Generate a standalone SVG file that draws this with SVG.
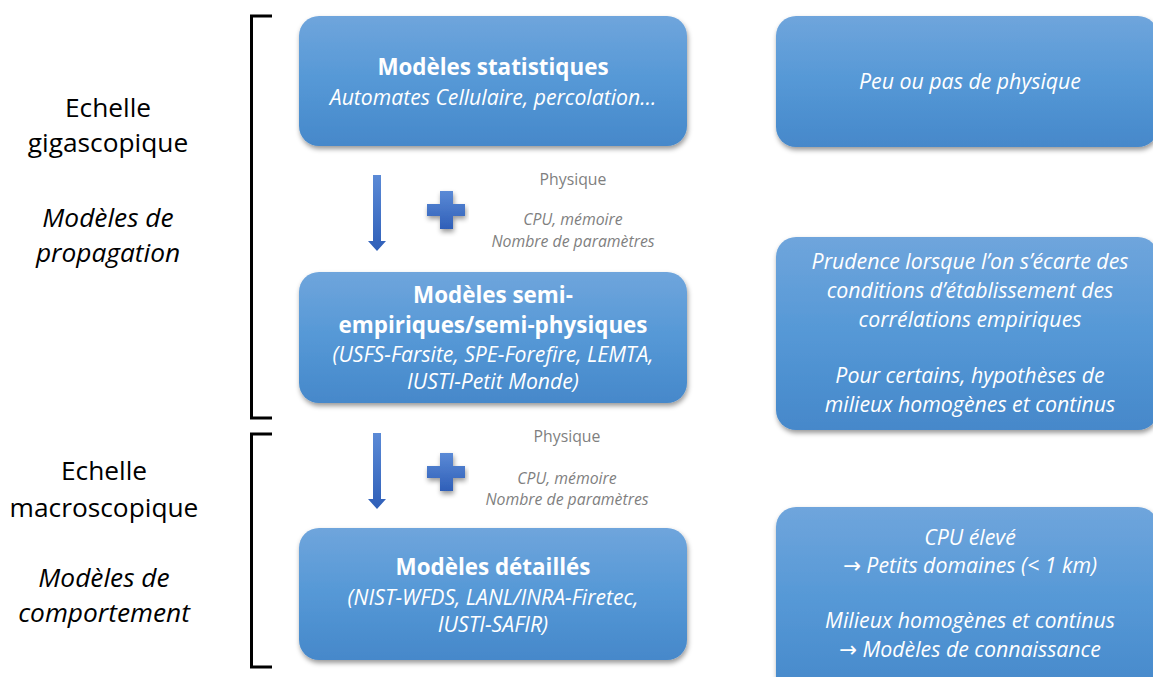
<svg xmlns="http://www.w3.org/2000/svg" width="1153" height="677" viewBox="0 0 1153 677">
<style>
.t{font-family:"Open Sans","Liberation Sans",sans-serif;text-anchor:middle}
.w{fill:#ffffff}
.b{font-weight:bold;font-size:22.4px}
.i{font-style:italic}
.s{font-size:21.2px}
.r{font-size:21.3px}
.g{fill:#7f7f7f;font-size:15.8px}
.k{fill:#000;font-size:26.3px}
.ar{font-family:"DejaVu Sans",sans-serif;font-style:normal}
.br{fill:none;stroke:#000;stroke-width:3}
</style>
<defs>
<linearGradient id="bg" x1="0" y1="0" x2="0" y2="1">
<stop offset="0" stop-color="#6fa5dc"/>
<stop offset="0.5" stop-color="#5598d6"/>
<stop offset="1" stop-color="#4688ca"/>
</linearGradient>
<linearGradient id="ag" x1="0" y1="0" x2="0" y2="1">
<stop offset="0" stop-color="#5b8ad6"/>
<stop offset="1" stop-color="#2f5fb8"/>
</linearGradient>
<filter id="sh" x="-10%" y="-10%" width="120%" height="130%">
<feDropShadow dx="1" dy="3" stdDeviation="2.5" flood-color="#000" flood-opacity="0.4"/>
</filter>
</defs>

<g id="brackets">
<path class="br" d="M272,16 H251.5 V418 H272"/>
<path class="br" d="M272,434 H251.5 V667 H272"/>
</g>

<g id="labels-left">
<text class="t k" x="108" y="117">Echelle</text>
<text class="t k" x="108" y="152">gigascopique</text>
<text class="t k i" x="108" y="227">Modèles de</text>
<text class="t k i" x="108" y="262">propagation</text>
<text class="t k" x="104" y="480">Echelle</text>
<text class="t k" x="104" y="517">macroscopique</text>
<text class="t k i" x="104" y="587">Modèles de</text>
<text class="t k i" x="104" y="622">comportement</text>
</g>

<g id="node-statistiques">
<rect x="299" y="16" width="388" height="130" rx="20" fill="url(#bg)" filter="url(#sh)"/>
<text class="t w b" x="493" y="75">Modèles statistiques</text>
<text class="t w i s" x="493" y="105">Automates Cellulaire, percolation…</text>
</g>

<g id="node-semi">
<rect x="299" y="272" width="388" height="131" rx="20" fill="url(#bg)" filter="url(#sh)"/>
<text class="t w b" x="493" y="303">Modèles semi-</text>
<text class="t w b" x="493" y="333">empiriques/semi-physiques</text>
<text class="t w i s" x="493" y="362">(USFS-Farsite, SPE-Forefire, LEMTA,</text>
<text class="t w i s" x="493" y="389">IUSTI-Petit Monde)</text>
</g>

<g id="node-detailles">
<rect x="299" y="528" width="388" height="132" rx="20" fill="url(#bg)" filter="url(#sh)"/>
<text class="t w b" x="493" y="575">Modèles détaillés</text>
<text class="t w i s" x="493" y="605">(NIST-WFDS, LANL/INRA-Firetec,</text>
<text class="t w i s" x="493" y="632">IUSTI-SAFIR)</text>
</g>

<g id="note-1">
<rect x="776" y="16" width="382" height="131" rx="20" fill="url(#bg)" filter="url(#sh)"/>
<text class="t w i r" x="970" y="89">Peu ou pas de physique</text>
</g>

<g id="note-2">
<rect x="776" y="237" width="382" height="193" rx="20" fill="url(#bg)" filter="url(#sh)"/>
<text class="t w i r" x="970" y="269">Prudence lorsque l’on s’écarte des</text>
<text class="t w i r" x="970" y="298">conditions d’établissement des</text>
<text class="t w i r" x="970" y="327">corrélations empiriques</text>
<text class="t w i r" x="970" y="383">Pour certains, hypothèses de</text>
<text class="t w i r" x="970" y="412">milieux homogènes et continus</text>
</g>

<g id="note-3">
<rect x="776" y="507" width="382" height="190" rx="20" fill="url(#bg)" filter="url(#sh)"/>
<text class="t w i r" x="970" y="545">CPU élevé</text>
<text class="t w i r" x="970" y="573"><tspan class="ar">→</tspan> Petits domaines (&lt; 1 km)</text>
<text class="t w i r" x="970" y="628">Milieux homogènes et continus</text>
<text class="t w i r" x="970" y="657"><tspan class="ar">→</tspan> Modèles de connaissance</text>
</g>

<g id="connectors">
<path d="M373,175 H381 V241 H386 L377,251 L368,241 H373 Z" fill="url(#ag)"/>
<path d="M373,433 H381 V499 H386 L377,509 L368,499 H373 Z" fill="url(#ag)"/>
</g>

<g id="plus-signs">
<path d="M440,191 H453 V204 H465 V216 H453 V229 H440 V216 H427 V204 H440 Z" fill="url(#ag)" filter="url(#sh)"/>
<path d="M440,453 H453 V466 H465 V478 H453 V491 H440 V478 H427 V466 H440 Z" fill="url(#ag)" filter="url(#sh)"/>
</g>

<g id="annotations">
<text class="t g" x="573" y="185">Physique</text>
<text class="t g i" x="573" y="225">CPU, mémoire</text>
<text class="t g i" x="573" y="247">Nombre de paramètres</text>
<text class="t g" x="567" y="442">Physique</text>
<text class="t g i" x="567" y="484">CPU, mémoire</text>
<text class="t g i" x="567" y="505">Nombre de paramètres</text>
</g>
</svg>
